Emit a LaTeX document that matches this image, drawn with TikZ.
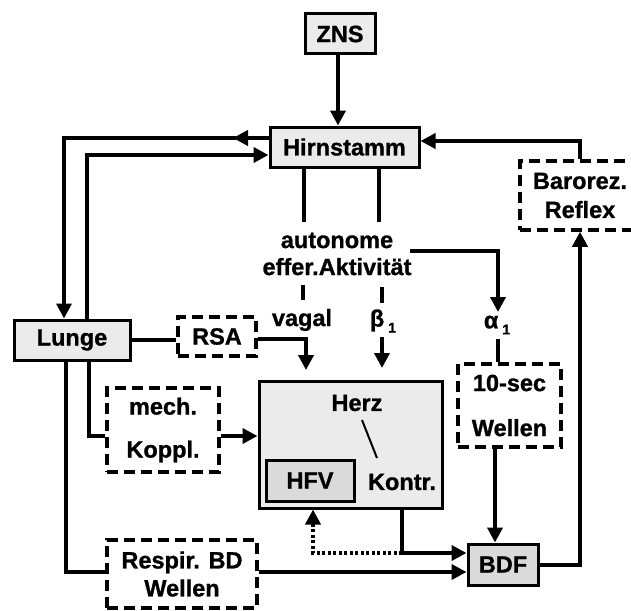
\documentclass[tikz,border=0pt]{standalone}
\usepackage{fontspec}
\setmainfont{Liberation Sans}[BoldFeatures={FakeBold=1}]
\usetikzlibrary{arrows.meta}
\definecolor{boxfill}{HTML}{EBEBEB}
\definecolor{darkfill}{HTML}{DADADA}
\begin{document}
\begin{tikzpicture}[x=1pt,y=-1pt,
  every node/.style={font=\fontsize{23.5}{27}\selectfont\bfseries},
  solidbox/.style={draw, line width=3pt, fill=boxfill, inner sep=0pt, align=center},
  dashbox/.style={draw, line width=3.5pt, dash pattern=on 11pt off 6pt, fill=white, inner sep=0pt, align=center},
  conn/.style={line width=4pt},
  arr/.style={conn, -{Triangle[length=15pt,width=15pt]}},
  dotarr/.style={line width=4pt, dash pattern=on 3pt off 2.5pt, -{Triangle[length=15pt,width=15pt]}},
  lbl/.style={inner sep=0pt, align=center}]
\clip (0,0) rectangle (631,610);
\fill[white] (0,0) rectangle (631,610);

% boxes
\node[solidbox, minimum width=70pt, minimum height=40pt] (zns) at (340,34) {ZNS};
\node[solidbox, minimum width=149pt, minimum height=40pt] (hirn) at (344.5,147) {Hirnstamm};
\node[dashbox, minimum width=120pt, minimum height=69pt] (baro) at (580,195.5) {Barorez.\\[2pt]Reflex};
\node[solidbox, minimum width=116pt, minimum height=40pt] (lunge) at (72,340) {Lunge};
\node[dashbox, minimum width=78pt, minimum height=39pt] (rsa) at (217,336.5) {RSA};
\node[dashbox, minimum width=112pt, minimum height=84pt] (mech) at (163,430) {mech.\\[16pt]Koppl.};
\node[solidbox, minimum width=183pt, minimum height=127pt] (herz) at (350.5,444.5) {};
\node[solidbox, fill=darkfill, minimum width=88pt, minimum height=41pt] (hfv) at (310,480.5) {HFV};
\node[dashbox, minimum width=103pt, minimum height=83pt] (tensec) at (509.5,405.5) {10-sec\\[18pt]Wellen};
\node[dashbox, minimum width=150pt, minimum height=68pt] (respir) at (182,574) {Respir. BD\\[1pt]Wellen};
\node[solidbox, fill=darkfill, minimum width=70pt, minimum height=41pt] (bdf) at (503,564.5) {BDF};

% labels
\node[lbl] (aut) at (337,254) {autonome\\effer.Aktivität};
\node[lbl] (vagal) at (302,320) {vagal};
\node[lbl] (beta) at (383,321) {β\hspace{4pt}\raisebox{-6pt}{\fontsize{14}{14}\selectfont 1}};
\node[lbl] (alpha) at (497,325) {α\hspace{4pt}\raisebox{-6pt}{\fontsize{14}{14}\selectfont 1}};
\node[lbl] (herztxt) at (357,403) {Herz};
\node[lbl] (kontr) at (402,482) {Kontr.};
\draw[line width=2pt] (362,420) -- (377,458);

% coordinates
\coordinate (bendA) at (64,138);
\coordinate (bendB) at (87,155);
\coordinate (kj) at (402,553);

% connectors
\draw[arr] (zns.south -| 338,0) -- (hirn.north -| 338,0);
\draw[arr] (hirn.west |- bendA) -- (233,138);
\draw[arr] (236,138) -- (bendA) -- (lunge.north -| bendA);
\draw[arr] (lunge.north -| bendB) -- (bendB) -- (hirn.west |- bendB);
\draw[arr] (baro.north) |- (hirn.east |- 0,141);

\draw[conn] (hirn.south -| 304,0) -- (304,222);
\draw[conn] (hirn.south -| 379,0) -- (379,222);
\draw[conn] (303,285) -- (303,300);
\draw[conn] (382,287) -- (382,303);
\draw[arr] (410,251) -| (498,312);
\draw[conn] (498,339) -- (tensec.north -| 498,0);

\draw[conn] (lunge.east) -- (rsa.west |- lunge.east);
\draw[arr] (rsa.east |- 0,339) -| (306,370);
\draw[arr] (382,337) -- (382,368);

\draw[conn] (lunge.south -| 89,0) |- (mech.west |- 0,436);
\draw[arr] (mech.east |- 0,436) -- (herz.west |- 0,436);
\draw[conn] (lunge.south -| 66,0) |- (respir.west |- 0,572);
\draw[arr] (respir.east |- 0,572) -- (bdf.west |- 0,572);

\draw[conn] (herz.south -| kj) -- (kj);
\draw[arr] (kj) -- (bdf.west |- kj);
\draw[dotarr] (kj) -| (herz.south -| 313,0);

\draw[arr] (tensec.south -| 495,0) -- (bdf.north -| 495,0);
\draw[arr] (bdf.east) -| (baro.south);
\end{tikzpicture}
\end{document}
